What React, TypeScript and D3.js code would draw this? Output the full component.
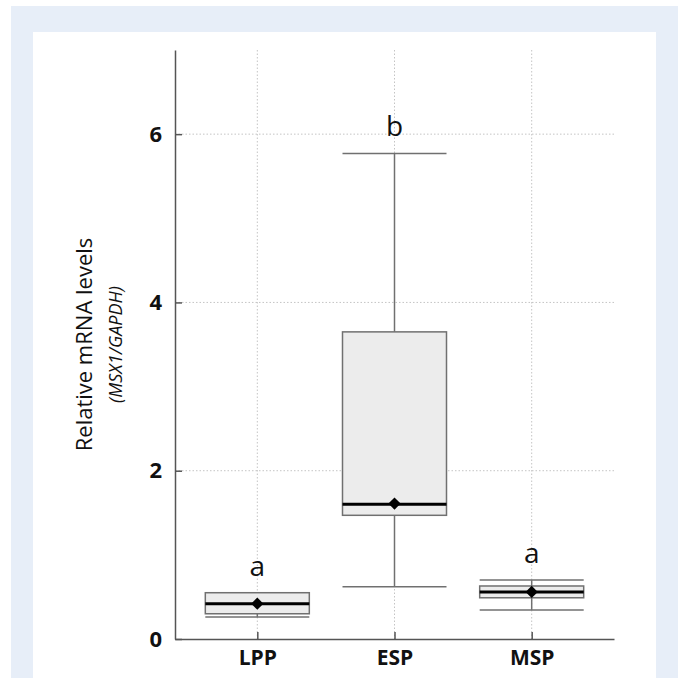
import React, { useEffect, useRef } from 'react';
import * as d3 from 'd3';

// values
const groups = ['LPP', 'ESP', 'MSP'];
const whiskerLow = [0.26, 0.62, 0.345];
const q1 = [0.30, 1.47, 0.49];
const medians = [0.42, 1.60, 0.56];
const q3 = [0.55, 3.65, 0.63];
const whiskerHigh = [0.55, 5.77, 0.70];
const means = [0.42, 1.61, 0.56];
const letters = ['a', 'b', 'a'];
const yTicks = [0, 2, 4, 6];

const W = 681;
const H = 678;
const FONT = '"Open Sans", "Noto Sans", sans-serif';

const App = () => {
  const svgRef = useRef<SVGSVGElement>(null);

  useEffect(() => {
    const svg = d3.select(svgRef.current);
    svg.selectAll('*').remove();

    const left = 175, right = 614, top = 50, bottom = 639;

    // page frame
    svg.append('rect').attr('x', 11).attr('y', 6).attr('width', 667).attr('height', H).attr('fill', '#e7eef8');
    svg.append('rect').attr('x', 33).attr('y', 32).attr('width', 623).attr('height', H).attr('fill', '#ffffff');

    const x = d3.scalePoint().domain(groups).range([left, right]).padding(0.6);
    const y = d3.scaleLinear().domain([0, 7]).range([bottom, top]);
    const boxW = 104;

    const g = svg.append('g');

    // dotted grid
    g.selectAll('.hgrid')
      .data(yTicks.filter((t) => t > 0))
      .enter()
      .append('line')
      .attr('x1', left)
      .attr('x2', right)
      .attr('y1', (d) => y(d))
      .attr('y2', (d) => y(d))
      .attr('stroke', '#c4c4c4')
      .attr('stroke-dasharray', '1.5,2')
      .attr('stroke-width', 1);

    g.selectAll('.vgrid')
      .data(groups)
      .enter()
      .append('line')
      .attr('x1', (d) => x(d)!)
      .attr('x2', (d) => x(d)!)
      .attr('y1', top)
      .attr('y2', bottom)
      .attr('stroke', '#c4c4c4')
      .attr('stroke-dasharray', '1.5,2')
      .attr('stroke-width', 1);

    const boxes = g.selectAll('.box')
      .data(groups)
      .enter()
      .append('g')
      .attr('transform', (d) => `translate(${x(d)},0)`);

    // whisker stems
    boxes.append('line')
      .attr('x1', 0).attr('x2', 0)
      .attr('y1', (d, i) => y(whiskerHigh[i]))
      .attr('y2', (d, i) => y(q3[i]))
      .attr('stroke', '#707070').attr('stroke-width', 1.5);
    boxes.append('line')
      .attr('x1', 0).attr('x2', 0)
      .attr('y1', (d, i) => y(q1[i]))
      .attr('y2', (d, i) => y(whiskerLow[i]))
      .attr('stroke', '#707070').attr('stroke-width', 1.5);

    // whisker caps
    boxes.append('line')
      .attr('x1', -boxW / 2).attr('x2', boxW / 2)
      .attr('y1', (d, i) => y(whiskerHigh[i]))
      .attr('y2', (d, i) => y(whiskerHigh[i]))
      .attr('stroke', '#707070').attr('stroke-width', 1.5);
    boxes.append('line')
      .attr('x1', -boxW / 2).attr('x2', boxW / 2)
      .attr('y1', (d, i) => y(whiskerLow[i]))
      .attr('y2', (d, i) => y(whiskerLow[i]))
      .attr('stroke', '#707070').attr('stroke-width', 1.5);

    // boxes
    boxes.append('rect')
      .attr('x', -boxW / 2)
      .attr('width', boxW)
      .attr('y', (d, i) => y(q3[i]))
      .attr('height', (d, i) => y(q1[i]) - y(q3[i]))
      .attr('fill', '#ececec')
      .attr('stroke', '#707070')
      .attr('stroke-width', 1.5);

    // medians
    boxes.append('line')
      .attr('x1', -boxW / 2).attr('x2', boxW / 2)
      .attr('y1', (d, i) => y(medians[i]))
      .attr('y2', (d, i) => y(medians[i]))
      .attr('stroke', '#000').attr('stroke-width', 3);

    // means
    boxes.append('path')
      .attr('d', d3.symbol().type(d3.symbolDiamond2).size(95))
      .attr('transform', (d, i) => `translate(0,${y(means[i])})`)
      .attr('fill', '#000');

    // significance letters
    boxes.append('text')
      .attr('y', (d, i) => y(whiskerHigh[i]) - 17)
      .attr('text-anchor', 'middle')
      .attr('font-family', FONT)
      .attr('font-size', 28)
      .attr('fill', '#111')
      .text((d, i) => letters[i]);

    // axes
    const yAxis = d3.axisLeft(y).tickValues(yTicks).tickSizeInner(-7).tickSizeOuter(0).tickPadding(13).tickFormat(d3.format('d'));
    const ya = svg.append('g').attr('transform', `translate(${left},0)`).call(yAxis);
    ya.select('.domain').attr('stroke', '#555').attr('stroke-width', 1.5);
    ya.selectAll('.tick line').attr('stroke', '#555').attr('stroke-width', 1.5);
    ya.selectAll('.tick text')
      .attr('font-family', FONT)
      .attr('font-weight', 'bold')
      .attr('font-size', 22)
      .attr('fill', '#111');

    const xAxis = d3.axisBottom(x).tickSizeInner(-7).tickSizeOuter(0).tickPadding(11);
    const xa = svg.append('g').attr('transform', `translate(0,${bottom})`).call(xAxis);
    xa.select('.domain').attr('stroke', '#555').attr('stroke-width', 1.5);
    xa.selectAll('.tick line').attr('stroke', '#555').attr('stroke-width', 1.5);
    xa.selectAll('.tick text')
      .attr('font-family', FONT)
      .attr('font-weight', 'bold')
      .attr('font-size', 21)
      .attr('fill', '#111');

    // y axis title
    const midY = (top + bottom) / 2;
    svg.append('text')
      .attr('transform', `translate(92,${midY}) rotate(-90)`)
      .attr('text-anchor', 'middle')
      .attr('font-family', FONT)
      .attr('font-size', 22)
      .attr('fill', '#111')
      .text('Relative mRNA levels');
    svg.append('text')
      .attr('transform', `translate(122,${midY}) rotate(-90)`)
      .attr('text-anchor', 'middle')
      .attr('font-family', FONT)
      .attr('font-style', 'italic')
      .attr('font-size', 18)
      .attr('fill', '#111')
      .text('(MSX1/GAPDH)');
  }, []);

  return (
    <svg
      ref={svgRef}
      width={W}
      height={H}
      style={{ position: 'absolute', left: 0, top: 0, display: 'block' }}
    ></svg>
  );
};

export default App;
